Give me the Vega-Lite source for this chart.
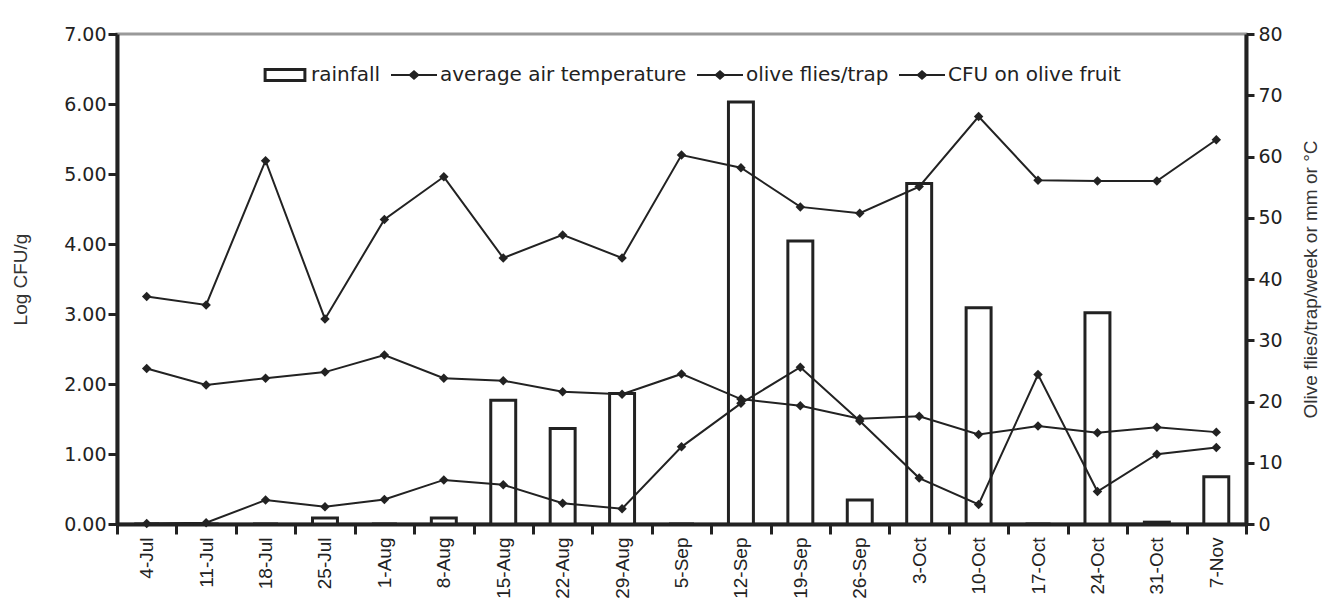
{
  "$schema": "https://vega.github.io/schema/vega-lite/v6.json",
  "width": 1129,
  "height": 490,
  "autosize": {"type": "none"},
  "padding": {"left": 117, "top": 34, "right": 93, "bottom": 89},
  "background": "white",
  "config": {
    "view": {"stroke": "#999999", "strokeWidth": 3},
    "axis": {
      "domainColor": "#222222",
      "domainWidth": 4,
      "tickColor": "#222222",
      "tickWidth": 3,
      "labelColor": "#222222",
      "titleColor": "#333333",
      "titleFontWeight": "normal",
      "grid": false
    }
  },
  "datasets": {
    "weekly": [
      {"date": "4-Jul", "rain": 0, "temp": 25.4, "flies": 0.1, "cfu": 3.25},
      {"date": "11-Jul", "rain": 0, "temp": 22.7, "flies": 0.2, "cfu": 3.13},
      {"date": "18-Jul", "rain": 0, "temp": 23.8, "flies": 3.9, "cfu": 5.19},
      {"date": "25-Jul", "rain": 1, "temp": 24.8, "flies": 2.8, "cfu": 2.93},
      {"date": "1-Aug", "rain": 0, "temp": 27.6, "flies": 4.0, "cfu": 4.35},
      {"date": "8-Aug", "rain": 1, "temp": 23.8, "flies": 7.2, "cfu": 4.96},
      {"date": "15-Aug", "rain": 20.2, "temp": 23.4, "flies": 6.4, "cfu": 3.80},
      {"date": "22-Aug", "rain": 15.6, "temp": 21.6, "flies": 3.4, "cfu": 4.13},
      {"date": "29-Aug", "rain": 21.3, "temp": 21.2, "flies": 2.5, "cfu": 3.80},
      {"date": "5-Sep", "rain": 0, "temp": 24.5, "flies": 12.6, "cfu": 5.27},
      {"date": "12-Sep", "rain": 68.9, "temp": 20.4, "flies": 19.7, "cfu": 5.09},
      {"date": "19-Sep", "rain": 46.2, "temp": 19.3, "flies": 25.6, "cfu": 4.53},
      {"date": "26-Sep", "rain": 3.9, "temp": 17.2, "flies": 16.8, "cfu": 4.44},
      {"date": "3-Oct", "rain": 55.6, "temp": 17.6, "flies": 7.5, "cfu": 4.82},
      {"date": "10-Oct", "rain": 35.3, "temp": 14.6, "flies": 3.2, "cfu": 5.82},
      {"date": "17-Oct", "rain": 0, "temp": 16.0, "flies": 24.4, "cfu": 4.91},
      {"date": "24-Oct", "rain": 34.5, "temp": 14.9, "flies": 5.3, "cfu": 4.90},
      {"date": "31-Oct", "rain": 0.3, "temp": 15.8, "flies": 11.4, "cfu": 4.90},
      {"date": "7-Nov", "rain": 7.7, "temp": 15.0, "flies": 12.5, "cfu": 5.49}
    ],
    "legendItems": [
      {"date": "4-Jul", "v": -50, "series": "rainfall"},
      {"date": "4-Jul", "v": -50, "series": "average air temperature"},
      {"date": "4-Jul", "v": -50, "series": "olive flies/trap"},
      {"date": "4-Jul", "v": -50, "series": "CFU on olive fruit"}
    ]
  },
  "encoding": {
    "x": {
      "field": "date",
      "type": "nominal",
      "scale": {
        "domain": ["4-Jul", "11-Jul", "18-Jul", "25-Jul", "1-Aug", "8-Aug", "15-Aug", "22-Aug", "29-Aug", "5-Sep", "12-Sep", "19-Sep", "26-Sep", "3-Oct", "10-Oct", "17-Oct", "24-Oct", "31-Oct", "7-Nov"],
        "paddingInner": 0,
        "paddingOuter": 0
      },
      "axis": {
        "title": null,
        "tickBand": "extent",
        "tickSize": 10,
        "labelAngle": -90,
        "labelAlign": "right",
        "labelBaseline": "middle",
        "labelPadding": 3,
        "labelFont": "Liberation Sans",
        "labelFontSize": 19,
        "labelOverlap": false
      }
    }
  },
  "layer": [
    {
      "data": {"name": "weekly"},
      "mark": {"type": "bar", "fill": "white", "stroke": "#222222", "strokeWidth": 3, "width": {"band": 0.42}},
      "encoding": {
        "y": {
          "field": "rain",
          "type": "quantitative",
          "scale": {"domain": [0, 80], "nice": false, "zero": true},
          "axis": {
            "orient": "right",
            "title": "Olive flies/trap/week or mm or °C",
            "values": [0, 10, 20, 30, 40, 50, 60, 70, 80],
            "tickSize": 8,
            "labelPadding": 4,
            "labelFont": "DejaVu Sans",
            "labelFontSize": 19,
            "titleFont": "Liberation Sans",
            "titleFontSize": 19,
            "titleAngle": 270,
            "titleBaseline": "middle",
            "titleAlign": "center",
            "titleX": 64,
            "titleY": 245
          }
        }
      }
    },
    {
      "data": {"name": "weekly"},
      "mark": {"type": "line", "color": "#222222", "strokeWidth": 2, "point": {"filled": true, "shape": "diamond", "size": 90, "color": "#222222"}},
      "encoding": {"y": {"field": "temp", "type": "quantitative", "scale": {"domain": [0, 80], "nice": false}, "axis": null}}
    },
    {
      "data": {"name": "weekly"},
      "mark": {"type": "line", "color": "#222222", "strokeWidth": 2, "point": {"filled": true, "shape": "diamond", "size": 90, "color": "#222222"}},
      "encoding": {"y": {"field": "flies", "type": "quantitative", "scale": {"domain": [0, 80], "nice": false}, "axis": null}}
    },
    {
      "data": {"name": "legendItems"},
      "mark": {"type": "point", "filled": true, "clip": true, "color": "#222222", "size": 100},
      "encoding": {
        "y": {"field": "v", "type": "quantitative", "scale": {"domain": [0, 80], "nice": false}, "axis": null},
        "shape": {
          "field": "series",
          "type": "nominal",
          "scale": {
            "domain": ["rainfall", "average air temperature", "olive flies/trap", "CFU on olive fruit"],
            "range": [
              "M-0.93,-0.3L0.93,-0.3L0.93,0.3L-0.93,0.3Z M-0.8,-0.17L-0.8,0.17L0.8,0.17L0.8,-0.17Z",
              "M-1,-0.045L-0.2,-0.045L0,-0.22L0.2,-0.045L1,-0.045L1,0.045L0.2,0.045L0,0.22L-0.2,0.045L-1,0.045Z",
              "M-1,-0.045L-0.2,-0.045L0,-0.22L0.2,-0.045L1,-0.045L1,0.045L0.2,0.045L0,0.22L-0.2,0.045L-1,0.045Z",
              "M-1,-0.045L-0.2,-0.045L0,-0.22L0.2,-0.045L1,-0.045L1,0.045L0.2,0.045L0,0.22L-0.2,0.045L-1,0.045Z"
            ]
          },
          "legend": {
            "orient": "none",
            "legendX": 145,
            "legendY": 18,
            "direction": "horizontal",
            "columns": 4,
            "title": null,
            "padding": 0,
            "symbolSize": 2116,
            "symbolFillColor": "#222222",
            "symbolStrokeColor": "#222222",
            "symbolStrokeWidth": 0,
            "symbolOpacity": 1,
            "labelFont": "DejaVu Sans",
            "labelFontSize": 20,
            "labelColor": "#222222",
            "labelOffset": 3,
            "labelLimit": 0,
            "columnPadding": 10
          }
        }
      }
    },
    {
      "data": {"name": "weekly"},
      "mark": {"type": "line", "color": "#222222", "strokeWidth": 2, "point": {"filled": true, "shape": "diamond", "size": 90, "color": "#222222"}},
      "encoding": {
        "y": {
          "field": "cfu",
          "type": "quantitative",
          "scale": {"domain": [0, 7], "nice": false},
          "axis": {
            "orient": "left",
            "title": "Log CFU/g",
            "values": [0, 1, 2, 3, 4, 5, 6, 7],
            "format": ".2f",
            "tickSize": 9,
            "labelPadding": 2,
            "labelFont": "DejaVu Sans",
            "labelFontSize": 19,
            "titleFont": "Liberation Sans",
            "titleFontSize": 19,
            "titleAngle": 270,
            "titleBaseline": "middle",
            "titleAlign": "center",
            "titleX": -97,
            "titleY": 245
          }
        }
      }
    }
  ],
  "resolve": {"scale": {"y": "independent"}}
}
